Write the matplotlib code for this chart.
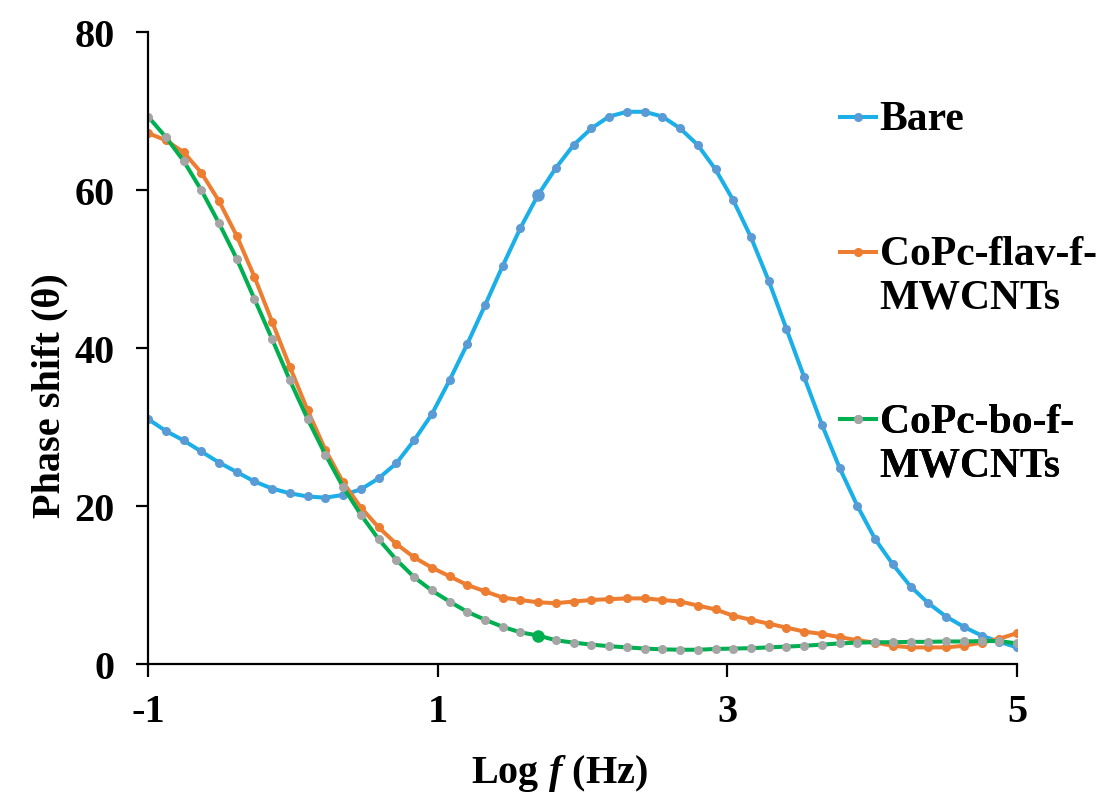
import numpy as np
import matplotlib.pyplot as plt
from matplotlib.offsetbox import HPacker

# log of frequency sweep, 0.1 Hz to 100 kHz, 50 points
log_f = np.linspace(-1, 5, 50)

bare = [31.0, 29.5, 28.3, 26.9, 25.5, 24.3, 23.1, 22.2, 21.6, 21.2,
        21.05, 21.4, 22.1, 23.5, 25.4, 28.3, 31.6, 35.9, 40.5, 45.4,
        50.4, 55.2, 59.4, 62.8, 65.7, 67.8, 69.3, 69.9, 69.9, 69.3,
        67.8, 65.7, 62.6, 58.7, 54.0, 48.5, 42.4, 36.3, 30.3, 24.8,
        20.0, 15.8, 12.6, 9.8, 7.7, 6.0, 4.7, 3.6, 2.8, 2.1]

flav = [67.2, 66.3, 64.8, 62.2, 58.6, 54.2, 49.0, 43.3, 37.6, 32.1,
        27.1, 23.0, 19.8, 17.3, 15.2, 13.5, 12.2, 11.1, 10.0, 9.2,
        8.4, 8.1, 7.8, 7.7, 7.9, 8.1, 8.2, 8.3, 8.3, 8.1,
        7.9, 7.4, 6.9, 6.1, 5.6, 5.1, 4.6, 4.1, 3.8, 3.4,
        3.0, 2.7, 2.3, 2.1, 2.1, 2.1, 2.3, 2.7, 3.2, 3.9]

bo = [69.3, 66.7, 63.7, 60.0, 55.8, 51.3, 46.2, 41.1, 35.9, 31.0,
      26.5, 22.4, 18.9, 15.8, 13.2, 11.0, 9.3, 7.9, 6.6, 5.6,
      4.7, 4.0, 3.6, 3.0, 2.7, 2.45, 2.25, 2.1, 1.95, 1.85,
      1.8, 1.8, 1.9, 1.95, 2.0, 2.1, 2.2, 2.3, 2.45, 2.6,
      2.7, 2.75, 2.75, 2.8, 2.8, 2.85, 2.85, 2.9, 2.9, 2.6]

names = ["Bare", "CoPc-flav-f-\nMWCNTs", "CoPc-bo-f-\nMWCNTs"]
x_ticks = [-1, 1, 3, 5]
y_ticks = [0, 20, 40, 60, 80]
hi = 22  # highlighted sample

plt.rcParams['font.family'] = 'Liberation Serif'
plt.rcParams['font.weight'] = 'bold'
plt.rcParams['axes.labelweight'] = 'bold'
plt.rcParams['mathtext.fontset'] = 'custom'
plt.rcParams['mathtext.it'] = 'Liberation Serif:italic:bold'
plt.rcParams['mathtext.rm'] = 'Liberation Serif:bold'

fig = plt.figure(figsize=(11.04, 8.03), dpi=100)
ax = fig.add_axes([0.1341, 0.1719, 0.7871, 0.787])

lw, ms = 2.9, 5.5
l1, = ax.plot(log_f, bare, color='#1AAFE8', lw=lw, marker='o', ms=ms,
              mfc='#5B9BD5', mec='#5B9BD5')
ax.plot(log_f[hi], bare[hi], 'o', ms=8, color='#5B9BD5')
l2, = ax.plot(log_f, flav, color='#ED7D31', lw=lw, marker='o', ms=ms)
l3, = ax.plot(log_f, bo, color='#00B050', lw=lw, marker='o', ms=ms,
              mfc='#A5A5A5', mec='#A5A5A5')
ax.plot(log_f[hi], bo[hi], 'o', ms=8, color='#00B050')

ax.set_xlim(-1, 5)
ax.set_ylim(0, 80)
ax.set_xticks(x_ticks)
ax.set_yticks(y_ticks)
ax.set_xticklabels(['-1', '1', '3', '5'])
for s in ['top', 'right']:
    ax.spines[s].set_visible(False)
for s in ['left', 'bottom']:
    ax.spines[s].set_linewidth(1.6)
ax.tick_params(axis='both', direction='out', length=9, width=1.6, labelsize=29)
ax.tick_params(axis='x', pad=12)
ax.tick_params(axis='y', pad=15)

ax.set_xlabel(r"Log $f$ (Hz)", fontsize=29)
ax.set_ylabel("Phase shift (θ)", fontsize=29)
ax.xaxis.set_label_coords(0.473, -0.14)
ax.yaxis.set_label_coords(-0.092, 0.426)

# one legend box per series, stacked down the right side
legend_top = [0.874, 0.706, 0.497]
for line, name, top in zip([l1, l2, l3], names, legend_top):
    leg = ax.legend([line], [name], loc='upper left', bbox_to_anchor=(0.761, top),
                    bbox_transform=fig.transFigure, frameon=False, fontsize=30,
                    borderpad=0, borderaxespad=0, handlelength=0.85,
                    handletextpad=0.1, handleheight=1.0, numpoints=1)
    for hp in leg.findobj(HPacker):
        hp.align = 'top'
    ax.add_artist(leg)

fig.savefig('out.png', dpi=100)
